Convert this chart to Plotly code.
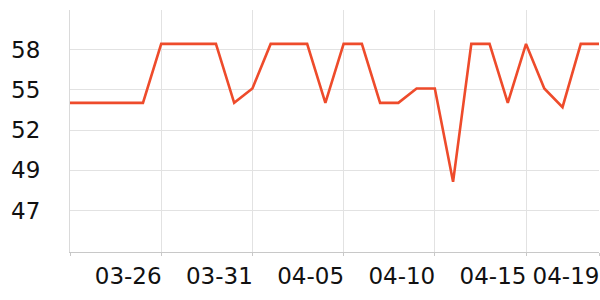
import plotly.graph_objects as go

dates = ["2024-03-21", "2024-03-22", "2024-03-23", "2024-03-24", "2024-03-25",
         "2024-03-26", "2024-03-27", "2024-03-28", "2024-03-29", "2024-03-30",
         "2024-03-31", "2024-04-01", "2024-04-02", "2024-04-03", "2024-04-04",
         "2024-04-05", "2024-04-06", "2024-04-07", "2024-04-08", "2024-04-09",
         "2024-04-10", "2024-04-11", "2024-04-12", "2024-04-13", "2024-04-14",
         "2024-04-15", "2024-04-16", "2024-04-17", "2024-04-18", "2024-04-19"]
values = [54.1, 54.1, 54.1, 54.1, 54.1,
          58.2, 58.2, 58.2, 58.2, 54.1,
          55.1, 58.2, 58.2, 58.2, 54.1,
          58.2, 58.2, 54.1, 54.1, 55.1,
          55.1, 48.6, 58.2, 58.2, 54.1,
          58.2, 55.1, 53.8, 58.2, 58.2]

x_tick_vals = ["2024-03-21", "2024-03-26", "2024-03-31", "2024-04-05",
               "2024-04-10", "2024-04-15", "2024-04-19"]
x_tick_text = ["", "03-26", "03-31", "04-05", "04-10", "04-15", "04-19"]

y_tick_vals = [46.6, 49.4, 52.2, 55.0, 57.8]
y_tick_text = ["47", "49", "52", "55", "58"]
y_range = [43.72, 60.56]

fig = go.Figure()
fig.add_trace(go.Scatter(
    x=dates, y=values, mode="lines",
    line=dict(color="#EE4B2B", width=2.6),
    hoverinfo="skip",
))

fig.update_layout(
    width=600, height=300,
    margin=dict(l=70, r=1, t=10, b=48),
    paper_bgcolor="white", plot_bgcolor="white",
    showlegend=False,
    font=dict(family="DejaVu Sans", size=23, color="#111"),
)
fig.update_xaxes(
    type="date",
    range=[dates[0], dates[-1]],
    tickvals=x_tick_vals, ticktext=x_tick_text,
    showgrid=True, gridcolor="#e2e2e2", gridwidth=1,
    showline=True, linecolor="#c8c8c8", linewidth=1,
    ticks="outside", ticklen=3, tickcolor="#c8c8c8",
    ticklabelshift=-33,
    zeroline=False,
)
fig.update_yaxes(
    range=y_range,
    tickvals=y_tick_vals, ticktext=y_tick_text,
    showgrid=True, gridcolor="#e2e2e2", gridwidth=1,
    showline=True, linecolor="#dadada", linewidth=1,
    ticks="", ticklabelstandoff=24,
    zeroline=False,
)

fig.write_html("out.html")
